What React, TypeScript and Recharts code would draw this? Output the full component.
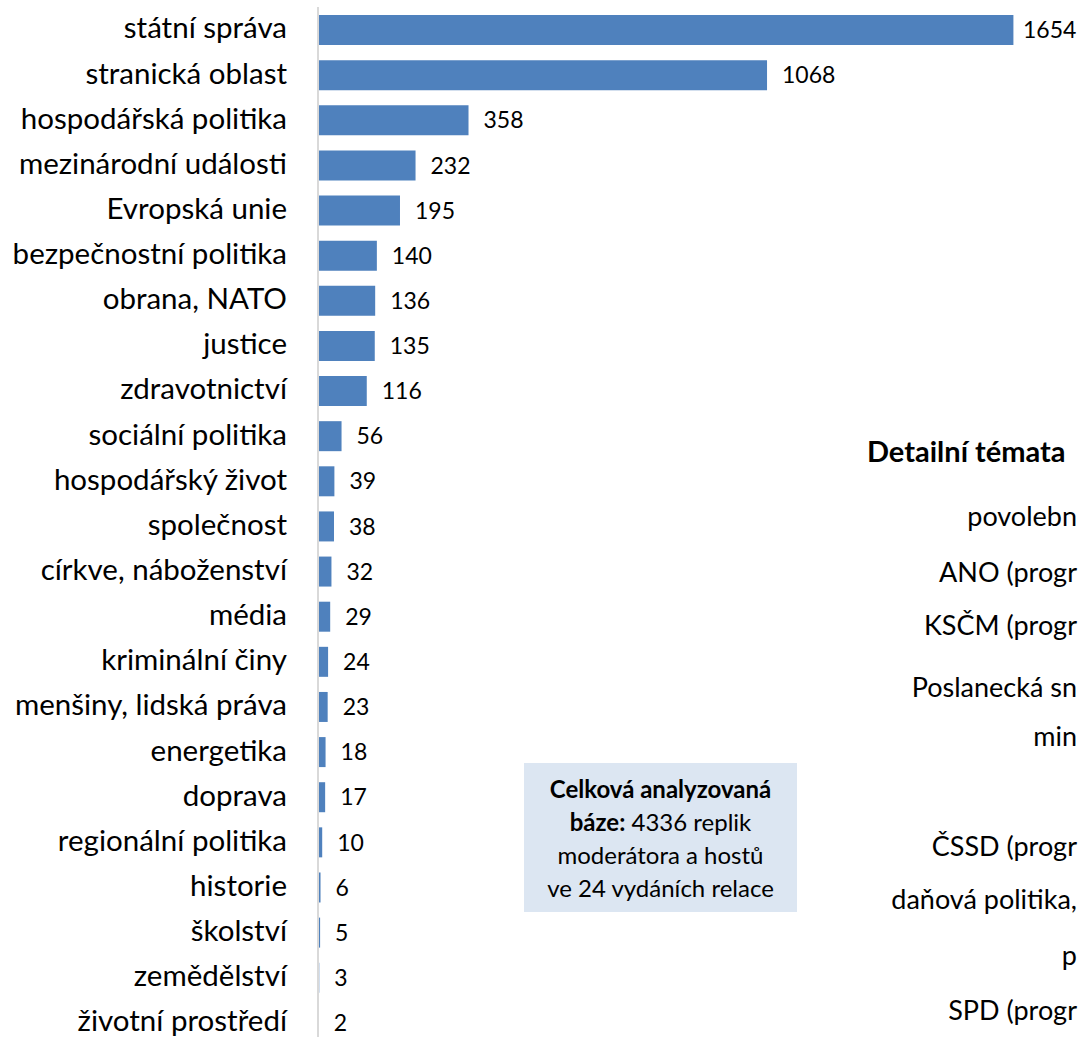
import { BarChart, Bar, XAxis, YAxis, LabelList } from 'recharts'

const CATEGORIES = [
  'státní správa',
  'stranická oblast',
  'hospodářská politika',
  'mezinárodní události',
  'Evropská unie',
  'bezpečnostní politika',
  'obrana, NATO',
  'justice',
  'zdravotnictví',
  'sociální politika',
  'hospodářský život',
  'společnost',
  'církve, náboženství',
  'média',
  'kriminální činy',
  'menšiny, lidská práva',
  'energetika',
  'doprava',
  'regionální politika',
  'historie',
  'školství',
  'zemědělství',
  'životní prostředí',
]

const COUNTS = [1654, 1068, 358, 232, 195, 140, 136, 135, 116, 56, 39, 38, 32, 29, 24, 23, 18, 17, 10, 6, 5, 3, 2]

// fragments of the neighbouring chart, cut off at the right edge
const SIDE_TITLE = 'Detailní témata'
const SIDE_ITEMS = [
  { text: 'povolebn', y: 516 },
  { text: 'ANO (progr', y: 572 },
  { text: 'KSČM (progr', y: 625 },
  { text: 'Poslanecká sn', y: 687 },
  { text: 'min', y: 736 },
  { text: 'ČSSD (progr', y: 846 },
  { text: 'daňová politika,', y: 899 },
  { text: 'p', y: 955 },
  { text: 'SPD (progr', y: 1010 },
]

const data = CATEGORIES.map((name, i) => ({ name, value: COUNTS[i] }))

const FONT = 'Lato, "Open Sans", sans-serif'

const CategoryTick = (props: any) => {
  const { x, y, payload } = props
  return (
    <text x={x} y={y} dy="0.3em" textAnchor="end" fill="#000" fontSize={29.5} fontFamily={FONT}>
      {payload.value}
    </text>
  )
}

const ValueLabel = (props: any) => {
  const { x, y, width, height, value } = props
  const tx = Math.min(x + width + 15, 1023)
  return (
    <text x={tx} y={y + height / 2} dy="0.355em" fill="#000" fontSize={23} fontFamily={FONT}>
      {value}
    </text>
  )
}

export default function App() {
  return (
    <div
      style={{
        position: 'fixed',
        left: 0,
        top: 0,
        width: 1079,
        height: 1037,
        overflow: 'hidden',
        background: '#fff',
        fontFamily: FONT,
      }}
    >
      <BarChart
        width={1079}
        height={1045}
        data={data}
        layout="vertical"
        margin={{ top: 7, right: 0, bottom: 0, left: 0 }}
      >
        <XAxis type="number" hide domain={[0, 1810]} />
        <YAxis
          type="category"
          dataKey="name"
          width={318}
          tickLine={false}
          tickSize={0}
          tickMargin={31}
          axisLine={{ stroke: '#d9d9d9', strokeWidth: 2 }}
          tick={<CategoryTick />}
          interval={0}
        />
        <Bar dataKey="value" fill="#4f81bd" barSize={30} isAnimationActive={false}>
          <LabelList dataKey="value" content={<ValueLabel />} />
        </Bar>
      </BarChart>

      <div
        style={{
          position: 'absolute',
          left: 524,
          top: 763,
          width: 273,
          height: 149,
          background: '#dce6f2',
          textAlign: 'center',
          fontSize: 24,
          lineHeight: '33px',
          paddingTop: 9,
          boxSizing: 'border-box',
          color: '#000',
          whiteSpace: 'nowrap',
        }}
      >
        <b>Celková analyzovaná</b>
        <br />
        <b>báze:</b> 4336 replik
        <br />
        moderátora a hostů
        <br />
        ve 24 vydáních relace
      </div>

      <div
        style={{
          position: 'absolute',
          left: 867,
          top: 451 - 18,
          fontSize: 29,
          lineHeight: '36px',
          fontWeight: 'bold',
          whiteSpace: 'nowrap',
          color: '#000',
        }}
      >
        {SIDE_TITLE}
      </div>
      {SIDE_ITEMS.map((it) => (
        <div
          key={it.text}
          style={{
            position: 'absolute',
            right: 2,
            top: it.y - 18,
            fontSize: 27,
            lineHeight: '36px',
            whiteSpace: 'nowrap',
            textAlign: 'right',
            color: '#000',
          }}
        >
          {it.text}
        </div>
      ))}
    </div>
  )
}
